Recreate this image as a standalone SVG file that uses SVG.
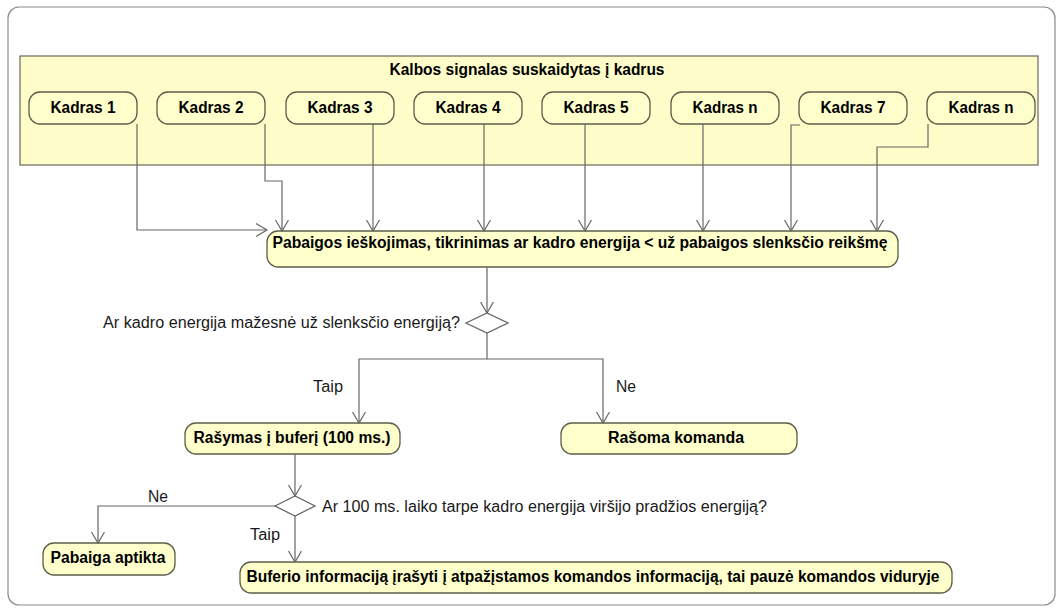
<svg xmlns="http://www.w3.org/2000/svg" width="1056" height="616" viewBox="0 0 1056 616">
  <style>
    .frame { fill: #ffffff; stroke: #8a8a8a; stroke-width: 1.2; }
    .lane { fill: #fefdc9; stroke: #6a6a5a; stroke-width: 1.2; }
    .node rect { fill: #ffffcc; stroke: #5e5e48; stroke-width: 1.3; }
    .dec { fill: #ffffff; stroke: #666666; stroke-width: 1.3; }
    .edge { fill: none; stroke: #676767; stroke-width: 1.2; }
    .b { font-family: "Liberation Sans", Arial, sans-serif; font-weight: bold; font-size: 16px; fill: #000000; text-anchor: middle; }
    .r { font-family: "Liberation Sans", Arial, sans-serif; font-size: 16px; fill: #1a1a1a; }
  </style>
  <defs>
    <marker id="arr" markerUnits="userSpaceOnUse" markerWidth="14" markerHeight="15" refX="11" refY="7" orient="auto">
      <path d="M0,0.5 L11,7 L0,13.5" fill="none" stroke="#676767" stroke-width="1.2"/>
    </marker>
  </defs>

  <rect class="frame" x="8" y="7" width="1047" height="598" rx="11"/>

  <g id="lane">
    <rect class="lane" x="20" y="56" width="1018" height="109"/>
    <text class="b" x="527" y="75" textLength="275" lengthAdjust="spacingAndGlyphs">Kalbos signalas suskaidytas į kadrus</text>
  </g>

  <g id="kadras1" class="node"><rect x="29" y="92" width="108" height="32" rx="11"/><text class="b" x="83" y="113" textLength="65" lengthAdjust="spacingAndGlyphs">Kadras 1</text></g>
  <g id="kadras2" class="node"><rect x="157" y="92" width="108" height="32" rx="11"/><text class="b" x="211" y="113" textLength="65" lengthAdjust="spacingAndGlyphs">Kadras 2</text></g>
  <g id="kadras3" class="node"><rect x="286" y="92" width="108" height="32" rx="11"/><text class="b" x="340" y="113" textLength="65" lengthAdjust="spacingAndGlyphs">Kadras 3</text></g>
  <g id="kadras4" class="node"><rect x="414" y="92" width="108" height="32" rx="11"/><text class="b" x="468" y="113" textLength="65" lengthAdjust="spacingAndGlyphs">Kadras 4</text></g>
  <g id="kadras5" class="node"><rect x="542" y="92" width="108" height="32" rx="11"/><text class="b" x="596" y="113" textLength="65" lengthAdjust="spacingAndGlyphs">Kadras 5</text></g>
  <g id="kadras6" class="node"><rect x="671" y="92" width="108" height="32" rx="11"/><text class="b" x="725" y="113" textLength="65" lengthAdjust="spacingAndGlyphs">Kadras n</text></g>
  <g id="kadras7" class="node"><rect x="799" y="92" width="108" height="32" rx="11"/><text class="b" x="853" y="113" textLength="65" lengthAdjust="spacingAndGlyphs">Kadras 7</text></g>
  <g id="kadras8" class="node"><rect x="927" y="92" width="108" height="32" rx="11"/><text class="b" x="981" y="113" textLength="65" lengthAdjust="spacingAndGlyphs">Kadras n</text></g>

  <g id="pabaigos" class="node"><rect x="267" y="231" width="631" height="36" rx="11"/><text class="b" x="580" y="248" textLength="615" lengthAdjust="spacingAndGlyphs">Pabaigos ieškojimas, tikrinimas ar kadro energija &lt; už pabaigos slenksčio reikšmę</text></g>

  <g id="decision1"><polygon class="dec" points="466,323 487,313 508,323 487,333"/></g>

  <g id="rasymas" class="node"><rect x="185" y="423" width="215" height="31" rx="11"/><text class="b" x="292" y="443" textLength="197" lengthAdjust="spacingAndGlyphs">Rašymas į buferį (100 ms.)</text></g>
  <g id="rasoma" class="node"><rect x="561" y="423" width="236" height="31" rx="11"/><text class="b" x="676" y="443" textLength="136" lengthAdjust="spacingAndGlyphs">Rašoma komanda</text></g>

  <g id="decision2"><polygon class="dec" points="275,506 295,496 315,506 295,516"/></g>

  <g id="pabaiga" class="node"><rect x="43" y="543" width="132" height="32" rx="11"/><text class="b" x="108" y="563" textLength="115" lengthAdjust="spacingAndGlyphs">Pabaiga aptikta</text></g>
  <g id="buferio" class="node"><rect x="240" y="562" width="712" height="31" rx="11"/><text class="b" x="593" y="582" textLength="693" lengthAdjust="spacingAndGlyphs">Buferio informaciją įrašyti į atpažįstamos komandos informaciją, tai pauzė komandos viduryje</text></g>

  <g id="connectors">
    <path class="edge" d="M137,124 V230 H267" marker-end="url(#arr)"/>
    <path class="edge" d="M265,124 V181 H282 V231" marker-end="url(#arr)"/>
    <path class="edge" d="M373,124 V231" marker-end="url(#arr)"/>
    <path class="edge" d="M484,124 V231" marker-end="url(#arr)"/>
    <path class="edge" d="M585,124 V231" marker-end="url(#arr)"/>
    <path class="edge" d="M703,124 V231" marker-end="url(#arr)"/>
    <path class="edge" d="M800,125 H791 V231" marker-end="url(#arr)"/>
    <path class="edge" d="M928,124 V147 H877 V231" marker-end="url(#arr)"/>
    <path class="edge" d="M487,267 V313" marker-end="url(#arr)"/>
    <path class="edge" d="M487,333 V359 H359 V423" marker-end="url(#arr)"/>
    <path class="edge" d="M487,359 H603 V423" marker-end="url(#arr)"/>
    <path class="edge" d="M295,454 V496" marker-end="url(#arr)"/>
    <path class="edge" d="M275,506 H98 V543" marker-end="url(#arr)"/>
    <path class="edge" d="M295,516 V562" marker-end="url(#arr)"/>
  </g>

  <g id="labels">
    <text class="r" x="460" y="328" text-anchor="end" textLength="357" lengthAdjust="spacingAndGlyphs">Ar kadro energija mažesnė už slenksčio energiją?</text>
    <text class="r" x="313" y="392" textLength="30" lengthAdjust="spacingAndGlyphs">Taip</text>
    <text class="r" x="616" y="392" textLength="20" lengthAdjust="spacingAndGlyphs">Ne</text>
    <text class="r" x="148" y="502" textLength="20" lengthAdjust="spacingAndGlyphs">Ne</text>
    <text class="r" x="250" y="540" textLength="30" lengthAdjust="spacingAndGlyphs">Taip</text>
    <text class="r" x="322" y="512" textLength="445" lengthAdjust="spacingAndGlyphs">Ar 100 ms. laiko tarpe kadro energija viršijo pradžios energiją?</text>
  </g>
</svg>
